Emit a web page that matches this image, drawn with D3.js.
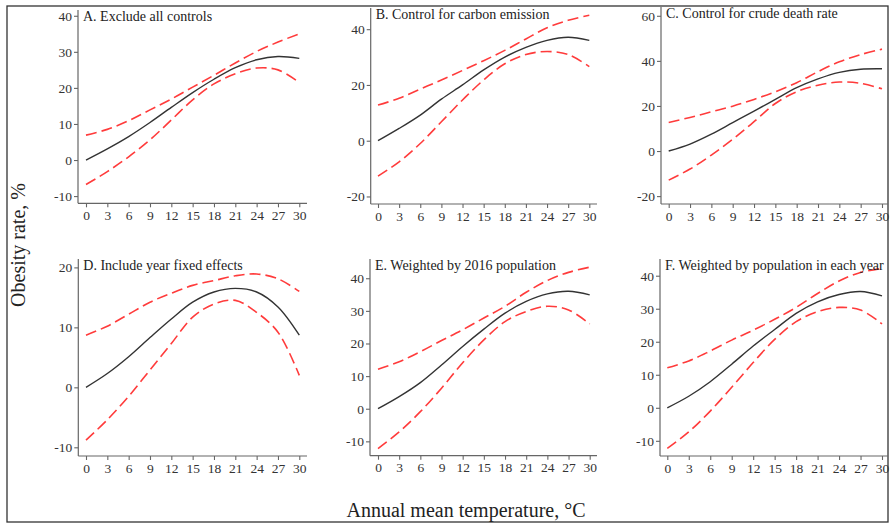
<!DOCTYPE html>
<html><head><meta charset="utf-8">
<script src="https://cdn.jsdelivr.net/npm/d3@7/dist/d3.min.js"></script>
<style>body{margin:0;background:#fff}svg{display:block}</style>
</head><body>
<svg id="chart" width="894" height="525"></svg>
<script>
// ---------- data ----------
const temps = [0, 3, 6, 9, 12, 15, 18, 21, 24, 27, 30];
const xTickLabels = ["0","3","6","9","12","15","18","21","24","27","30"];
const panelTitles = [
  "A. Exclude all controls",
  "B. Control for carbon emission",
  "C. Control for crude death rate",
  "D. Include year fixed effects",
  "E. Weighted by 2016 population",
  "F. Weighted by population in each year"
];
const centerA = [0, 3.1, 6.5, 10.4, 14.6, 18.7, 22.4, 25.6, 27.8, 28.7, 28.2];
const upperA  = [6.9, 8.5, 10.9, 13.9, 16.9, 20.2, 23.5, 26.9, 30.1, 32.7, 35.0];
const lowerA  = [-6.8, -3.2, 0.9, 5.6, 11.1, 16.7, 21.1, 23.9, 25.5, 25.0, 21.5];

const centerB = [0, 4.4, 9.2, 14.9, 20.0, 25.4, 30.0, 33.5, 36.0, 37.1, 36.0];
const upperB  = [12.8, 15.2, 18.5, 21.8, 25.2, 28.7, 32.4, 36.5, 40.5, 43.2, 45.0];
const lowerB  = [-12.7, -7.6, -1.0, 6.8, 14.6, 21.8, 27.6, 30.9, 32.0, 30.9, 26.6];

const centerC = [0, 3.1, 7.5, 12.6, 17.7, 22.9, 28.1, 32.0, 34.9, 36.3, 36.5];
const upperC  = [12.7, 14.9, 17.4, 19.9, 22.9, 26.3, 30.3, 35.2, 39.6, 42.8, 45.2];
const lowerC  = [-12.9, -8.0, -1.8, 5.2, 13.0, 21.1, 26.3, 29.2, 30.6, 30.0, 27.6];

const centerD = [0, 2.3, 5.1, 8.3, 11.4, 14.2, 15.9, 16.5, 15.9, 13.4, 8.7];
const upperD  = [8.7, 10.2, 12.2, 14.2, 15.7, 17.0, 17.8, 18.6, 18.9, 18.1, 16.0];
const lowerD  = [-8.8, -5.4, -1.5, 2.9, 7.3, 11.7, 13.9, 14.5, 12.5, 9.2, 2.0];

const centerE = [0, 3.7, 8.0, 13.4, 19.1, 24.4, 29.3, 32.9, 35.2, 36.0, 34.9];
const upperE  = [12.1, 14.4, 17.5, 20.9, 24.2, 27.8, 31.4, 35.7, 39.3, 41.8, 43.4];
const lowerE  = [-12.2, -7.1, -0.9, 6.3, 14.1, 21.1, 26.7, 29.8, 31.4, 30.3, 26.0];

const centerF = [0, 3.5, 7.9, 13.2, 18.7, 23.7, 28.6, 32.1, 34.3, 35.2, 33.9];
const upperF  = [12.1, 14.2, 17.2, 20.5, 23.5, 26.8, 30.4, 34.6, 38.4, 41.0, 42.2];
const lowerF  = [-12.3, -7.3, -1.0, 6.2, 13.7, 20.7, 26.1, 29.1, 30.4, 29.6, 25.4];

const yTicksA = [-10, 0, 10, 20, 30, 40];
const yTicksB = [-20, 0, 20, 40];
const yTicksC = [-20, 0, 20, 40, 60];
const yTicksD = [-10, 0, 10, 20];
const yTicksE = [-10, 0, 10, 20, 30, 40];
const yTicksF = [-10, 0, 10, 20, 30, 40];

const yDomains = [[-12, 41.6], [-22.7, 47.6], [-23.5, 63.9], [-11.45, 21.4], [-14.4, 45.9], [-14.6, 45.06]];

const xLabel = "Annual mean temperature, \u00B0C";
const yLabel = "Obesity rate, %";

// ---------- layout (pixels) ----------
const layout = [
  {ax: 78,  x0: 86,    x1: 299.3, xEnd: 307, top: 10,  bottom: 203.3},
  {ax: 370.7, x0: 378, x1: 589.3, xEnd: 597, top: 8,   bottom: 204},
  {ax: 661, x0: 668.7, x1: 882,   xEnd: 888, top: 7,   bottom: 204},
  {ax: 78.3, x0: 86,   x1: 299.3, xEnd: 307, top: 259, bottom: 456},
  {ax: 370, x0: 378,   x1: 589.7, xEnd: 597, top: 259, bottom: 455.7},
  {ax: 660, x0: 667.3, x1: 882,   xEnd: 888, top: 259, bottom: 456}
];

const panels = [
  {c: centerA, u: upperA, l: lowerA, yt: yTicksA},
  {c: centerB, u: upperB, l: lowerB, yt: yTicksB},
  {c: centerC, u: upperC, l: lowerC, yt: yTicksC},
  {c: centerD, u: upperD, l: lowerD, yt: yTicksD},
  {c: centerE, u: upperE, l: lowerE, yt: yTicksE},
  {c: centerF, u: upperF, l: lowerF, yt: yTicksF}
];

const FONT = "'Liberation Serif','Times New Roman',serif";
const svg = d3.select("#chart");

svg.append("rect").attr("x", 7).attr("y", 6).attr("width", 881).attr("height", 516)
  .attr("fill", "none").attr("stroke", "#333").attr("stroke-width", 1.3);

panels.forEach((p, i) => {
  const L = layout[i];
  const x = d3.scaleLinear().domain([0, 30]).range([L.x0, L.x1]);
  const y = d3.scaleLinear().domain(yDomains[i]).range([L.bottom, L.top]);
  const g = svg.append("g");

  g.append("line").attr("x1", L.ax).attr("x2", L.ax).attr("y1", L.top).attr("y2", L.bottom)
    .attr("stroke", "#666").attr("stroke-width", 1.2);
  g.append("line").attr("x1", L.ax).attr("x2", L.xEnd).attr("y1", L.bottom).attr("y2", L.bottom)
    .attr("stroke", "#666").attr("stroke-width", 1.2);

  const xAxis = d3.axisBottom(x).tickValues(temps).tickFormat((d, k) => xTickLabels[k])
    .tickSize(4).tickPadding(3);
  const gx = g.append("g").attr("transform", `translate(0,${L.bottom})`).call(xAxis);
  gx.select(".domain").remove();

  const yAxis = d3.axisLeft(y).tickValues(p.yt).tickFormat(d => String(d)).tickSize(4).tickPadding(2);
  const gy = g.append("g").attr("transform", `translate(${L.ax},0)`).call(yAxis);
  gy.select(".domain").remove();

  [gx, gy].forEach(a => {
    a.selectAll(".tick line").attr("stroke", "#666").attr("stroke-width", 1.1);
    a.selectAll(".tick text").attr("fill", "#333").style("font-family", FONT).style("font-size", "13.5px");
  });

  const line = d3.line().x((d, k) => x(temps[k])).y(d => y(d)).curve(d3.curveCatmullRom.alpha(0.5));

  g.append("path").attr("d", line(p.u)).attr("fill", "none").attr("stroke", "#ff3b3b")
    .attr("stroke-width", 1.6).attr("stroke-dasharray", "11,5");
  g.append("path").attr("d", line(p.l)).attr("fill", "none").attr("stroke", "#ff3b3b")
    .attr("stroke-width", 1.6).attr("stroke-dasharray", "11,5");
  g.append("path").attr("d", line(p.c)).attr("fill", "none").attr("stroke", "#333")
    .attr("stroke-width", 1.4);

  g.append("text").attr("x", L.ax + 5).attr("y", L.top + 11)
    .attr("fill", "#222").style("font-family", FONT).style("font-size", "14px")
    .text(panelTitles[i]);
});

svg.append("text").attr("x", 466).attr("y", 517).attr("text-anchor", "middle")
  .attr("fill", "#222").style("font-family", FONT).style("font-size", "20px").text(xLabel);
svg.append("text").attr("transform", "translate(25,245) rotate(-90)").attr("text-anchor", "middle")
  .attr("fill", "#222").style("font-family", FONT).style("font-size", "20px").text(yLabel);
</script>
</body></html>
